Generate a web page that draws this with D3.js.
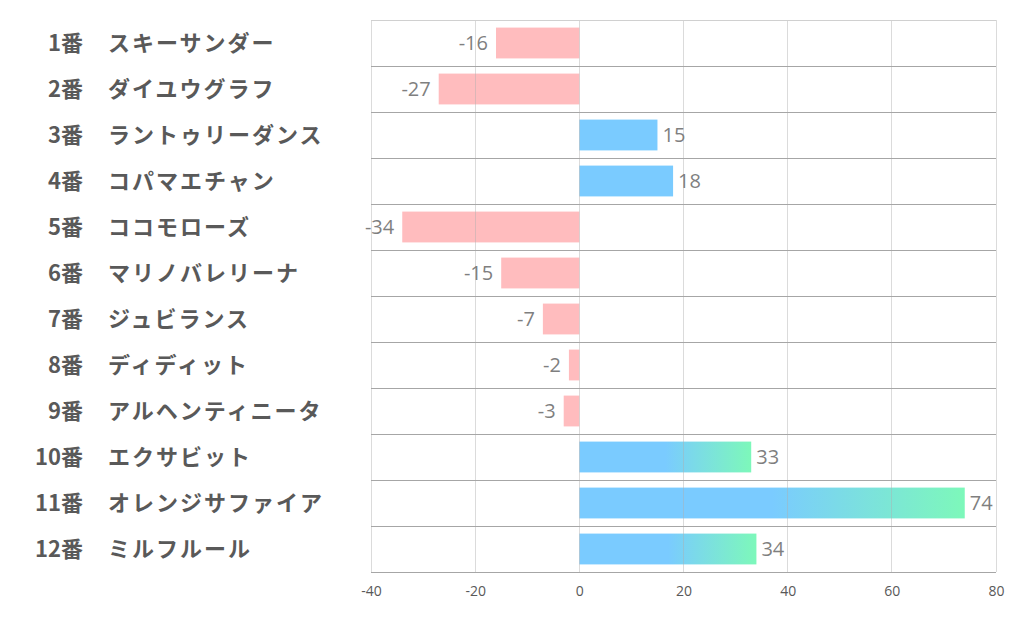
<!DOCTYPE html>
<html><head><meta charset="utf-8">
<script src="https://cdn.jsdelivr.net/npm/d3@7"></script>
<style>body{margin:0;background:#fff}svg{display:block}</style>
</head><body>
<script>
const numbers = ["1番","2番","3番","4番","5番","6番","7番","8番","9番","10番","11番","12番"];
const names = ["スキーサンダー","ダイユウグラフ","ラントゥリーダンス","コパマエチャン","ココモローズ","マリノバレリーナ","ジュビランス","ディディット","アルヘンティニータ","エクサビット","オレンジサファイア","ミルフルール"];
const values = [-16,-27,15,18,-34,-15,-7,-2,-3,33,74,34];
const xTicks = [-40,-20,0,20,40,60,80];

(function(){
const W=1022,H=626;
const pl=371,pr=996,pt=20,pb=572;
const svg=d3.select("body").append("svg").attr("width",W).attr("height",H);
const defs=svg.append("defs");
const x=d3.scaleLinear().domain([-40,80]).range([pl,pr]);
const y=d3.scaleBand().domain(d3.range(values.length)).range([pt,pb]).paddingInner(0.33).paddingOuter(0.165);
const rowH=(pb-pt)/values.length;
const fmt=d=>String(d);

values.forEach((v,i)=>{
  let fill;
  if(v<0) fill="#FFBCBE";
  else if(v>20){
    const id="g"+i;
    const g=defs.append("linearGradient").attr("id",id).attr("gradientUnits","userSpaceOnUse")
      .attr("x1",x(0)).attr("x2",x(v)).attr("y1",0).attr("y2",0);
    g.append("stop").attr("offset","0.5").attr("stop-color","#7ACBFF");
    g.append("stop").attr("offset","1").attr("stop-color","#7DF8BA");
    fill=`url(#${id})`;
  } else fill="#7ACBFF";
  svg.append("rect").attr("x",Math.min(x(0),x(v))).attr("width",Math.abs(x(v)-x(0)))
    .attr("y",y(i)).attr("height",y.bandwidth()).attr("fill",fill);
});

svg.append("g").selectAll("line").data(xTicks).join("line")
  .attr("x1",d=>x(d)).attr("x2",d=>x(d)).attr("y1",pt).attr("y2",pb)
  .attr("stroke","#b0b0b0").attr("stroke-opacity",0.45).attr("stroke-width",1)
  .attr("shape-rendering","crispEdges");
svg.append("g").selectAll("line").data(d3.range(values.length+1)).join("line")
  .attr("x1",pl).attr("x2",pr).attr("y1",d=>pt+d*rowH+0.5).attr("y2",d=>pt+d*rowH+0.5)
  .attr("stroke",d=>d===0?"#d0d0d0":"#a6a6a6").attr("stroke-width",1);

values.forEach((v,i)=>{
  svg.append("text").attr("x",v<0?x(v)-8:x(v)+5).attr("y",y(i)+y.bandwidth()/2+7)
    .attr("text-anchor",v<0?"end":"start").attr("fill","#7f7f7f")
    .attr("font-family","'Open Sans','Noto Sans',sans-serif").attr("font-size",20).text(fmt(v));
});

const ax=svg.append("g").attr("transform",`translate(0,${pb})`)
  .call(d3.axisBottom(x).tickValues(xTicks).tickFormat(fmt).tickSize(0).tickPadding(14));
ax.select(".domain").remove();
ax.selectAll("text").attr("fill","#595959").attr("font-size",14)
  .attr("font-family","'Open Sans','Noto Sans',sans-serif");

numbers.forEach((n,i)=>{
  const cy=pt+rowH*(i+0.5)+8;
  svg.append("text").attr("x",83).attr("y",cy).attr("text-anchor","end")
    .attr("font-family","'Noto Sans CJK JP',sans-serif").attr("font-weight","bold")
    .attr("font-size",22).attr("fill","#595959").text(n);
  svg.append("text").attr("x",108).attr("y",cy).attr("text-anchor","start")
    .attr("font-family","'Noto Sans CJK JP',sans-serif").attr("font-weight","bold")
    .attr("font-size",22).attr("letter-spacing",2).attr("fill","#595959").text(names[i]);
});
})();
</script>
</body></html>
